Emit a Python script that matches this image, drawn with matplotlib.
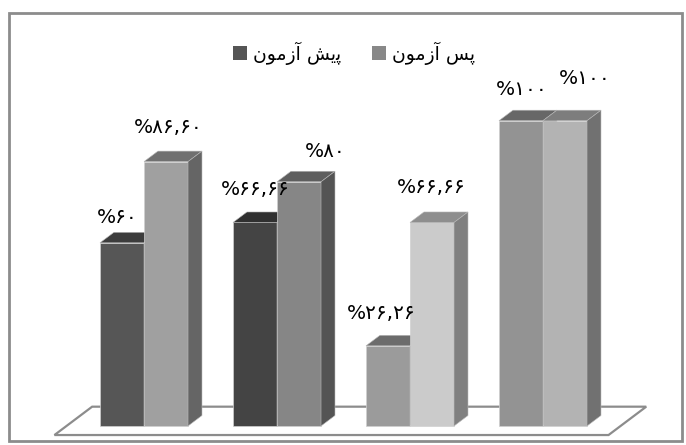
import matplotlib
matplotlib.use("Agg")
import matplotlib.pyplot as plt
from matplotlib.patches import Polygon, Rectangle, Patch
import numpy as np

# ---- data -------------------------------------------------------------
groups = ["1", "2", "3", "4"]
pre_test = [60, 66.66, 26.26, 100]
post_test = [86.60, 80, 66.66, 100]
pre_labels = ["%۶۰", "%۶۶,۶۶", "%۲۶,۲۶", "%۱۰۰"]
post_labels = ["%۸۶,۶۰", "%۸۰", "%۶۶,۶۶", "%۱۰۰"]

# series names, written with Arabic presentation forms in visual order
# ("پیش آزمون" and "پس آزمون") because matplotlib does no Arabic shaping
pre_name = "\uFEE5\uFEEE\uFEE3\uFEAF\uFE81 \uFEB6\uFBFE\uFB58"
post_name = "\uFEE5\uFEEE\uFEE3\uFEAF\uFE81 \uFEB2\uFB58"

# ---- styling ----------------------------------------------------------
pre_colors = ["#565656", "#444444", "#9b9b9b", "#939393"]
post_colors = ["#a0a0a0", "#868686", "#cbcbcb", "#b3b3b3"]
legend_colors = ["#555555", "#888888"]
TOP_SHADE = 0.70
SIDE_SHADE = 0.63

BAR_W = 0.331          # width of one bar (category spacing = 1)
DX, DY = 0.105, 3.44   # oblique depth offset of a bar
FLOOR_FRONT = -0.86    # floor edges, in multiples of the bar depth
FLOOR_BACK = 1.84
FLOOR_MARGIN = 0.083

# label nudges in pixels (x, y above the front top edge)
pre_nudge = [(-5, 25), (0, 33), (-7, 32), (1, 31)]
post_nudge = [(2, 34), (26, 30), (-1, 35), (20, 42)]

plt.rcParams["font.family"] = ["DejaVu Sans"]

W, H = 686, 445
fig = plt.figure(figsize=(W / 100, H / 100), dpi=100)
ax = fig.add_axes([0, 0, 1, 1])
px_per_x, px_per_y = 133.0, 3.053
x0_px, y0_px = 144.0, 426.0
ax.set_xlim(-x0_px / px_per_x, (W - x0_px) / px_per_x)
ax.set_ylim(-(H - y0_px) / px_per_y, y0_px / px_per_y)
ax.axis("off")


def shade(color, f):
    c = np.array(matplotlib.colors.to_rgb(color))
    return tuple(c * f)


# floor
n = len(groups)
fl = -0.5 - FLOOR_MARGIN
fr = n - 0.5 + FLOOR_MARGIN
floor = Polygon(
    [(fl + FLOOR_FRONT * DX, FLOOR_FRONT * DY),
     (fr + FLOOR_FRONT * DX, FLOOR_FRONT * DY),
     (fr + FLOOR_BACK * DX, FLOOR_BACK * DY),
     (fl + FLOOR_BACK * DX, FLOOR_BACK * DY)],
    closed=True, facecolor="white", edgecolor="#8c8c8c", lw=1.6, zorder=1)
ax.add_patch(floor)


def bar3d(x_left, h, color):
    # front face
    ax.bar(x_left, h, width=BAR_W, align="edge", color=color,
           edgecolor="#d0d0d0", linewidth=0.5, zorder=3)
    # top face
    top = Polygon([(x_left, h), (x_left + BAR_W, h),
                   (x_left + BAR_W + DX, h + DY), (x_left + DX, h + DY)],
                  closed=True, facecolor=shade(color, TOP_SHADE),
                  edgecolor="#b8b8b8", lw=0.4, zorder=3)
    ax.add_patch(top)
    # side face
    xr = x_left + BAR_W
    side = Polygon([(xr, 0), (xr + DX, DY), (xr + DX, h + DY), (xr, h)],
                   closed=True, facecolor=shade(color, SIDE_SHADE),
                   edgecolor="#b8b8b8", lw=0.4, zorder=3)
    ax.add_patch(side)


xs = np.arange(n)
for i in range(n):
    bar3d(xs[i] - BAR_W, pre_test[i], pre_colors[i])
    bar3d(xs[i], post_test[i], post_colors[i])

for i in range(n):
    ax.annotate(pre_labels[i], (xs[i] - BAR_W / 2, pre_test[i]),
                xytext=pre_nudge[i], textcoords="offset pixels",
                ha="center", va="center", fontsize=14.5, color="black",
                zorder=5)
    ax.annotate(post_labels[i], (xs[i] + BAR_W / 2, post_test[i]),
                xytext=post_nudge[i], textcoords="offset pixels",
                ha="center", va="center", fontsize=14.5, color="black",
                zorder=5)

handles = [Patch(facecolor=legend_colors[0], edgecolor="none"),
           Patch(facecolor=legend_colors[1], edgecolor="none")]
fig.legend(handles, [pre_name, post_name], loc="center",
           bbox_to_anchor=(354 / W, 1 - 53 / H), ncol=2, frameon=False,
           fontsize=13.5, handlelength=0.75, handleheight=0.75,
           handletextpad=0.35, columnspacing=1.6)

# chart frame
fig.patches.append(Rectangle((9 / W, 1 - 441 / H), 673 / W, 428 / H,
                             transform=fig.transFigure, fill=False,
                             edgecolor="#8c8c8c", lw=2, zorder=0))

fig.savefig("out.png", dpi=100, facecolor="white")
